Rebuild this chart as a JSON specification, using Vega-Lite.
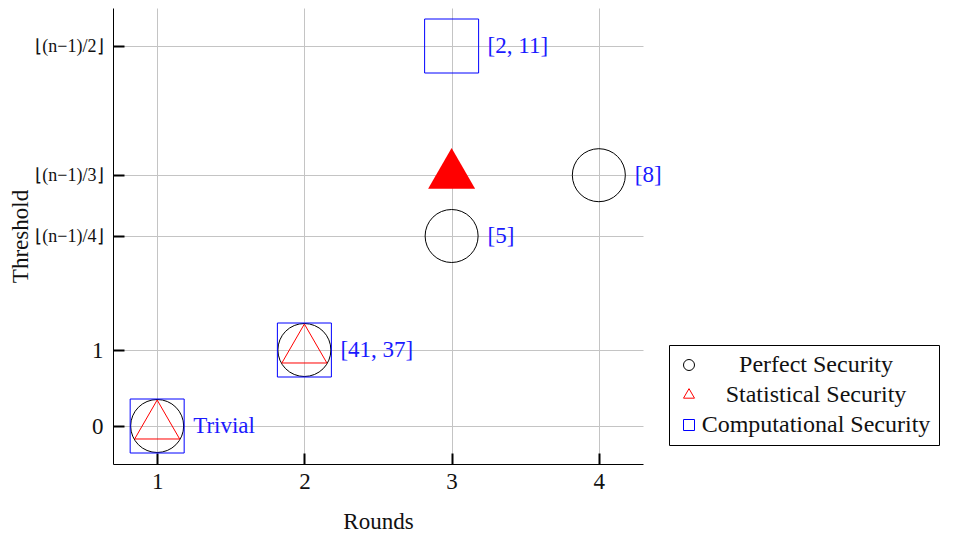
{
  "$schema": "https://vega.github.io/schema/vega-lite/v6.json",
  "width": 530,
  "height": 456,
  "autosize": {"type": "none"},
  "padding": {"left": 113, "top": 8, "right": 314, "bottom": 69},
  "background": "white",
  "config": {
    "font": "Liberation Serif",
    "view": {"stroke": null},
    "axis": {
      "grid": true,
      "gridColor": "#c4c4c4",
      "gridWidth": 1,
      "domainColor": "black",
      "domainWidth": 1,
      "tickColor": "black",
      "tickWidth": 2,
      "tickSize": -11,
      "labelFontSize": 23,
      "labelColor": "#111111",
      "labelFont": "Liberation Serif",
      "titleFont": "Liberation Serif",
      "titleFontSize": 23,
      "titleFontWeight": "normal",
      "titleColor": "#111111"
    },
    "legend": {
      "orient": "none",
      "legendX": 556,
      "legendY": 337,
      "strokeColor": "black",
      "fillColor": "white",
      "padding": 8,
      "labelFontSize": 24,
      "labelFont": "Liberation Serif",
      "labelColor": "#111111",
      "symbolSize": 121,
      "symbolStrokeWidth": 1,
      "rowPadding": 6,
      "labelAlign": "center",
      "labelOffset": 115,
      "labelLimit": 400
    }
  },
  "data": {
    "values": [
      {"round": 1, "threshold": 0, "security": "Perfect Security"},
      {"round": 2, "threshold": 1, "security": "Perfect Security"},
      {"round": 3, "threshold": 2.5, "security": "Perfect Security", "label": "[5]"},
      {"round": 4, "threshold": 3.3, "security": "Perfect Security", "label": "[8]"},
      {"round": 1, "threshold": 0, "security": "Statistical Security"},
      {"round": 2, "threshold": 1, "security": "Statistical Security"},
      {"round": 3, "threshold": 3.3, "security": "Statistical Security", "filled": true},
      {"round": 1, "threshold": 0, "security": "Computational Security", "label": "Trivial"},
      {"round": 2, "threshold": 1, "security": "Computational Security", "label": "[41, 37]"},
      {"round": 3, "threshold": 5, "security": "Computational Security", "label": "[2, 11]"}
    ]
  },
  "encoding": {
    "x": {
      "field": "round",
      "type": "quantitative",
      "scale": {"domain": [0.7, 4.3], "nice": false, "zero": false},
      "axis": {
        "values": [1, 2, 3, 4],
        "title": "Rounds",
        "labelPadding": 17,
        "titleX": 265,
        "titleY": 57,
        "titleBaseline": "middle",
        "titleAlign": "center"
      }
    },
    "y": {
      "field": "threshold",
      "type": "quantitative",
      "scale": {"domain": [-0.5, 5.5], "nice": false, "zero": false},
      "axis": {
        "values": [0, 1, 2.5, 3.3, 5],
        "title": "Threshold",
        "labelPadding": 21,
        "labelExpr": "datum.value == 5 ? '⌊(n−1)/2⌋' : datum.value == 3.3 ? '⌊(n−1)/3⌋' : datum.value == 2.5 ? '⌊(n−1)/4⌋' : datum.label",
        "labelFontSize": {"condition": {"test": "datum.value > 2", "value": 18}, "value": 23},
        "titleX": -93,
        "titleY": 228,
        "titleAngle": 270,
        "titleBaseline": "middle",
        "titleAlign": "center"
      }
    }
  },
  "layer": [
    {
      "transform": [{"filter": "datum.security === 'Perfect Security'"}],
      "mark": {"type": "point", "filled": false, "strokeWidth": 1, "opacity": 1, "size": 2809},
      "encoding": {
        "color": {
          "field": "security",
          "type": "nominal",
          "scale": {
            "domain": ["Perfect Security", "Statistical Security", "Computational Security"],
            "range": ["black", "red", "blue"]
          },
          "legend": {"title": null}
        },
        "shape": {
          "field": "security",
          "type": "nominal",
          "scale": {
            "domain": ["Perfect Security", "Statistical Security", "Computational Security"],
            "range": ["circle", "M0,-1.1547L1,0.5774L-1,0.5774Z", "square"]
          },
          "legend": {"title": null}
        }
      }
    },
    {
      "transform": [{"filter": "datum.security === 'Statistical Security' && datum.filled !== true"}],
      "mark": {"type": "point", "filled": false, "strokeWidth": 1, "opacity": 1, "size": 2025},
      "encoding": {
        "color": {"field": "security", "type": "nominal", "legend": {"title": null}},
        "shape": {"field": "security", "type": "nominal", "legend": {"title": null}}
      }
    },
    {
      "transform": [{"filter": "datum.security === 'Computational Security'"}],
      "mark": {"type": "point", "filled": false, "strokeWidth": 1, "opacity": 1, "size": 2916},
      "encoding": {
        "color": {"field": "security", "type": "nominal", "legend": {"title": null}},
        "shape": {"field": "security", "type": "nominal", "legend": {"title": null}}
      }
    },
    {
      "transform": [{"filter": "datum.filled === true"}],
      "mark": {
        "type": "point",
        "filled": true,
        "color": "red",
        "opacity": 1,
        "shape": "M0,-1.1547L1,0.5774L-1,0.5774Z",
        "size": 2209
      }
    },
    {
      "transform": [{"filter": "isValid(datum.label)"}],
      "mark": {
        "type": "text",
        "align": "left",
        "baseline": "middle",
        "dx": 36,
        "fontSize": 23,
        "font": "Liberation Serif",
        "color": "#1a1aff"
      },
      "encoding": {
        "text": {"field": "label", "type": "nominal"}
      }
    }
  ]
}
